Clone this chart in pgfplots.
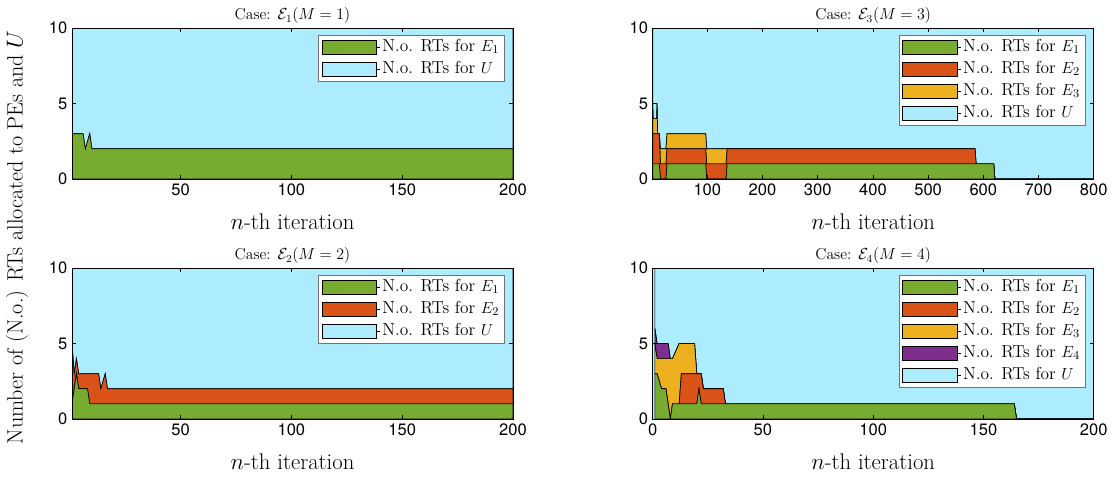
\documentclass[border=0pt]{standalone}
\usepackage{fontspec}
\usepackage{pgfplots}
\pgfplotsset{compat=1.18}
\usepackage{pgfplotstable}
\newfontfamily\tickfont{TeX Gyre Heros}

\definecolor{cEone}{rgb}{0.466,0.674,0.188}
\definecolor{cEtwo}{rgb}{0.850,0.325,0.098}
\definecolor{cEthree}{rgb}{0.929,0.694,0.125}
\definecolor{cEfour}{rgb}{0.494,0.184,0.556}
\definecolor{cU}{rgb}{0.678,0.922,1.000}

% RTs allocated to each PE and to U, per iteration
\pgfplotstableread{
n   E1  U
1   3   7
6   3   7
7   2   8
9   3   7
10  2   8
200 2   8
}\caseone

\pgfplotstableread{
n   E1  E2  U
1   1   4   5
2   2   1   7
3   3   1   6
4   2   1   7
8   2   1   7
9   1   2   7
13  1   2   7
14  1   1   8
16  1   2   7
17  1   1   8
200 1   1   8
}\casetwo

\pgfplotstableread{
n   E1  E2  E3  U
1   1   2   2   5
2   1   2   1   6
8   1   2   1   6
9   1   2   2   5
10  1   2   0   7
13  1   2   0   7
15  0   1   1   8
25  0   1   1   8
27  1   1   1   7
97  1   1   1   7
99  0   1   1   8
134 0   1   1   8
136 1   1   0   8
585 1   1   0   8
587 1   0   0   9
619 1   0   0   9
621 0   0   0   10
800 0   0   0   10
}\casethree

\pgfplotstableread{
n   E1  E2  E3  E4  U
1   3   0   2   1   4
2   3   0   1   1   5
4   2   0   2   1   5
6   2   0   2   1   5
7   1   0   3   1   5
8   0   0   4   0   6
9   1   0   3   0   6
12  1   0   4   0   5
13  1   2   2   0   5
19  1   2   2   0   5
20  1   2   0   0   7
21  2   1   0   0   7
22  1   2   0   0   7
23  1   1   0   0   8
32  1   1   0   0   8
33  1   0   0   0   9
164 1   0   0   0   9
165 0   0   0   0   10
200 0   0   0   0   10
}\casefour

\pgfplotsset{
  panel/.style={
    scale only axis, width=330.75pt, height=113.25pt,
    anchor=north west,
    ymin=0, ymax=10, ytick={0,5,10},
    stack plots=y, area style,
    axis on top,
    tick align=inside, major tick length=3pt,
    tick style={black, line width=0.4pt},
    axis line style={black, line width=0.6pt},
    ticklabel style={font=\tickfont\fontsize{12.4}{14}\selectfont},
    /pgf/number format/assume math mode=true,
    every axis plot/.append style={draw=black, line width=0.5pt},
    xlabel={$n$-th iteration},
    xlabel style={font=\fontsize{17}{19}\selectfont, yshift=-6.5pt},
    title style={font=\fontsize{11.8}{13}\selectfont, yshift=-6.5pt},
    legend cell align=left,
    legend image code/.code={%
      \draw[##1,draw=black,line width=0.5pt] (0pt,-5.5pt) rectangle (41pt,5.5pt);
      \path (41pt,0pt) -- (43.5pt,0pt);},
    legend style={at={(1,1)}, anchor=north east, xshift=-6pt, yshift=-5.25pt,
      draw=black!55, fill=white, line width=0.5pt,
      font=\fontsize{13}{15}\selectfont,
      nodes={inner sep=1.6pt, text height=9pt, text depth=3pt},
      row sep=1.25pt, inner xsep=2.5pt, inner ysep=1.5pt},
  },
}

\begin{document}
\begin{tikzpicture}
\path[use as bounding box] (0,0) rectangle (834.75pt,-359.25pt);

\node[rotate=90, font=\fontsize{16.6}{18}\selectfont] at (12.75pt,-178pt)
  {Number of (N.o.) RTs allocated to PEs and $U$};

% Case E1
\begin{axis}[panel, at={(54pt,-21pt)},
  xmin=1, xmax=200, xtick={50,100,150,200},
  title={Case: $\mathcal{E}_1(M=1)$}]
\addplot[fill=cEone] table[x=n,y=E1]{\caseone} \closedcycle;
\addlegendentry{N.o. RTs for $E_1$}
\addplot[fill=cU] table[x=n,y=U]{\caseone} \closedcycle;
\addlegendentry{N.o. RTs for $U$}
\end{axis}

% Case E3
\begin{axis}[panel, at={(489.5pt,-21pt)},
  xmin=1, xmax=800, xtick={100,200,...,800},
  title={Case: $\mathcal{E}_3(M=3)$}]
\addplot[fill=cEone] table[x=n,y=E1]{\casethree} \closedcycle;
\addlegendentry{N.o. RTs for $E_1$}
\addplot[fill=cEtwo] table[x=n,y=E2]{\casethree} \closedcycle;
\addlegendentry{N.o. RTs for $E_2$}
\addplot[fill=cEthree] table[x=n,y=E3]{\casethree} \closedcycle;
\addlegendentry{N.o. RTs for $E_3$}
\addplot[fill=cU] table[x=n,y=U]{\casethree} \closedcycle;
\addlegendentry{N.o. RTs for $U$}
\end{axis}

% Case E2
\begin{axis}[panel, at={(54pt,-201pt)},
  xmin=1, xmax=200, xtick={50,100,150,200},
  title={Case: $\mathcal{E}_2(M=2)$}]
\addplot[fill=cEone] table[x=n,y=E1]{\casetwo} \closedcycle;
\addlegendentry{N.o. RTs for $E_1$}
\addplot[fill=cEtwo] table[x=n,y=E2]{\casetwo} \closedcycle;
\addlegendentry{N.o. RTs for $E_2$}
\addplot[fill=cU] table[x=n,y=U]{\casetwo} \closedcycle;
\addlegendentry{N.o. RTs for $U$}
\end{axis}

% Case E4
\begin{axis}[panel, at={(489.5pt,-201pt)},
  xmin=0, xmax=200, xtick={0,50,100,150,200},
  axis background/.style={fill=cU},
  title={Case: $\mathcal{E}_4(M=4)$}]
\addplot[fill=cEone] table[x=n,y=E1]{\casefour} \closedcycle;
\addlegendentry{N.o. RTs for $E_1$}
\addplot[fill=cEtwo] table[x=n,y=E2]{\casefour} \closedcycle;
\addlegendentry{N.o. RTs for $E_2$}
\addplot[fill=cEthree] table[x=n,y=E3]{\casefour} \closedcycle;
\addlegendentry{N.o. RTs for $E_3$}
\addplot[fill=cEfour] table[x=n,y=E4]{\casefour} \closedcycle;
\addlegendentry{N.o. RTs for $E_4$}
\addplot[fill=cU] table[x=n,y=U]{\casefour} \closedcycle;
\addlegendentry{N.o. RTs for $U$}
\end{axis}
\end{tikzpicture}
\end{document}
